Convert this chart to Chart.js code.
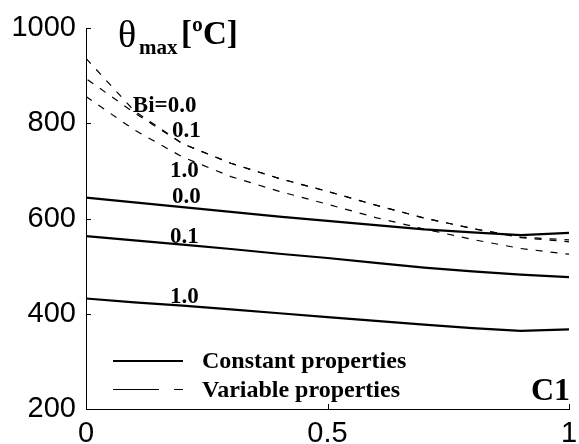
<!DOCTYPE html>
<html>
<head>
<meta charset="utf-8">
<script src="https://cdn.jsdelivr.net/npm/chart.js@4.4.1/dist/chart.umd.min.js"></script>
<style>
  html, body { margin: 0; padding: 0; background: #fff; }
  #wrap { width: 579px; height: 444px; }
</style>
</head>
<body>
<div id="wrap"><canvas id="thetaChart" width="579" height="444"></canvas></div>
<script>
// C1 values along the x axis
const c1Values = [0, 0.1, 0.2, 0.3, 0.4, 0.5, 0.6, 0.7, 0.8, 0.9, 1.0];

// Constant properties (solid)
const constBi00 = [644, 634, 624, 614, 604, 595, 586, 577, 571, 565, 570];
const constBi01 = [563, 554, 545, 536, 526, 517, 507, 497, 489, 482, 477];
const constBi10 = [432, 424, 417, 409, 401, 393, 385, 377, 370, 364, 367];

// Variable properties (dashed)
const varBi00 = [936, 826, 757, 716, 684, 657, 628, 601, 579, 561, 555];
const varBi01 = [894, 822, 757, 716, 684, 657, 628, 601, 579, 560, 551];
const varBi10 = [856, 786, 729, 688, 657, 630, 602, 578, 556, 537, 525];

// Tick values
const xTicks = [0, 0.5, 1];
const yTicks = [200, 400, 600, 800, 1000];

// Curve labels, anchored in data units [C1, theta]
const curveLabels = [
  { text: 'Bi=0.0', x: 0.097, y: 824 },
  { text: '0.1', x: 0.178, y: 771 },
  { text: '1.0', x: 0.174, y: 687 },
  { text: '0.0', x: 0.178, y: 633 },
  { text: '0.1', x: 0.174, y: 549 },
  { text: '1.0', x: 0.174, y: 423 }
];

const SERIF = '"Liberation Serif", "Times New Roman", serif';
const SANS = '"Liberation Sans", Arial, sans-serif';

function toPoints(values) {
  return values.map((v, i) => ({ x: c1Values[i], y: v }));
}

function solid(label, values) {
  return {
    label,
    data: toPoints(values),
    borderColor: '#000',
    borderWidth: 2.2,
    pointRadius: 0,
    fill: false,
    tension: 0
  };
}

function dashed(label, values, dashOffset = 0) {
  return {
    label,
    data: toPoints(values),
    borderColor: '#000',
    borderWidth: 1.2,
    borderDash: [7, 8],
    borderDashOffset: dashOffset,
    pointRadius: 0,
    fill: false,
    tension: 0
  };
}

// Draws inward ticks, title, curve labels, legend and axis name
const decorPlugin = {
  id: 'decor',
  afterDraw(chart) {
    const ctx = chart.ctx;
    const area = chart.chartArea;
    const xs = chart.scales.x;
    const ys = chart.scales.y;

    ctx.save();
    ctx.strokeStyle = '#000';
    ctx.lineWidth = 1;

    // inward tick marks
    xTicks.forEach(t => {
      const px = Math.round(xs.getPixelForValue(t)) + 0.5;
      ctx.beginPath();
      ctx.moveTo(px, area.bottom);
      ctx.lineTo(px, area.bottom - 5);
      ctx.stroke();
    });
    yTicks.forEach(t => {
      const py = Math.round(ys.getPixelForValue(t)) + 0.5;
      ctx.beginPath();
      ctx.moveTo(area.left, py);
      ctx.lineTo(area.left + 5, py);
      ctx.stroke();
    });

    ctx.fillStyle = '#000';
    ctx.textBaseline = 'alphabetic';
    ctx.textAlign = 'left';

    // y-axis title: theta_max [ºC]
    ctx.font = '38px ' + SERIF;
    ctx.fillText('\u03B8', area.left + 32, area.top + 19);
    ctx.font = 'bold 21px ' + SERIF;
    ctx.fillText('max', area.left + 53, area.top + 26);
    ctx.font = 'bold 33px ' + SERIF;
    ctx.fillText('[\u00BAC]', area.left + 95, area.top + 16);

    // curve labels
    ctx.font = 'bold 23px ' + SERIF;
    curveLabels.forEach(l => {
      ctx.fillText(l.text, xs.getPixelForValue(l.x), ys.getPixelForValue(l.y));
    });

    // legend
    const lx = area.left + 27;
    const ly1 = 361;
    const ly2 = 389.5;
    ctx.lineWidth = 2.2;
    ctx.beginPath();
    ctx.moveTo(lx, ly1);
    ctx.lineTo(lx + 70, ly1);
    ctx.stroke();
    ctx.lineWidth = 1.2;
    ctx.setLineDash([46, 15]);
    ctx.beginPath();
    ctx.moveTo(lx, ly2);
    ctx.lineTo(lx + 70, ly2);
    ctx.stroke();
    ctx.setLineDash([]);

    ctx.font = 'bold 24px ' + SERIF;
    ctx.textBaseline = 'middle';
    ctx.fillText('Constant properties', lx + 89, ly1 + 1);
    ctx.fillText('Variable properties', lx + 89, ly2 + 1);

    // x-axis name
    ctx.font = 'bold 32px ' + SERIF;
    ctx.textAlign = 'right';
    ctx.textBaseline = 'alphabetic';
    ctx.fillText('C1', area.right + 1, area.bottom - 9);

    ctx.restore();
  }
};

const ctx = document.getElementById('thetaChart');

new Chart(ctx, {
  type: 'line',
  data: {
    datasets: [
      solid('Constant Bi=0.0', constBi00),
      solid('Constant Bi=0.1', constBi01),
      solid('Constant Bi=1.0', constBi10),
      dashed('Variable Bi=0.0', varBi00),
      dashed('Variable Bi=0.1', varBi01, 13),
      dashed('Variable Bi=1.0', varBi10)
    ]
  },
  options: {
    responsive: false,
    animation: false,
    layout: {
      padding: { top: 28, right: 10, bottom: 0, left: 0 }
    },
    plugins: {
      legend: { display: false },
      tooltip: { enabled: false }
    },
    scales: {
      x: {
        type: 'linear',
        min: 0,
        max: 1,
        afterBuildTicks: scale => {
          scale.ticks = xTicks.map(v => ({ value: v }));
        },
        afterFit: scale => { scale.height = 35; },
        grid: { display: false },
        border: { display: true, color: '#000', width: 1 },
        ticks: {
          color: '#000',
          padding: 0,
          maxRotation: 0,
          font: { family: SANS, size: 29 },
          callback: v => String(v)
        }
      },
      y: {
        type: 'linear',
        min: 200,
        max: 1000,
        afterBuildTicks: scale => {
          scale.ticks = yTicks.map(v => ({ value: v }));
        },
        afterFit: scale => { scale.width = 86; },
        grid: { display: false },
        border: { display: true, color: '#000', width: 1 },
        ticks: {
          color: '#000',
          padding: 2,
          font: { family: SANS, size: 29 },
          callback: v => String(v)
        }
      }
    }
  },
  plugins: [decorPlugin]
});
</script>
</body>
</html>
